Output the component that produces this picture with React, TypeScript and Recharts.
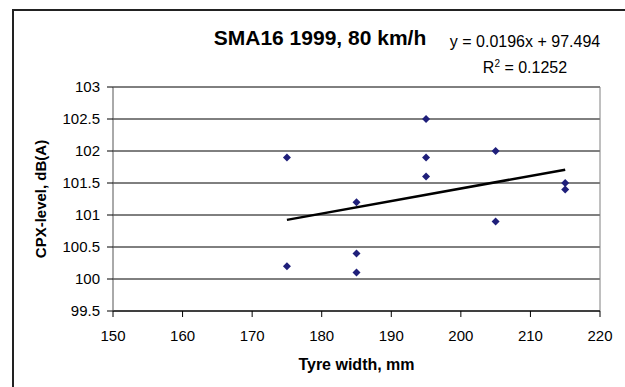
import React from 'react';
import {
  ScatterChart,
  Scatter,
  XAxis,
  YAxis,
  CartesianGrid,
  ReferenceLine,
  Label,
} from 'recharts';

// Measured CPX levels per tyre width
const tyreWidths = [175, 175, 185, 185, 185, 195, 195, 195, 205, 205, 215, 215];
const cpxLevels = [101.9, 100.2, 101.2, 100.4, 100.1, 102.5, 101.9, 101.6, 102.0, 100.9, 101.5, 101.4];

// Linear trend end points (y = 0.0196x + 97.494)
const trendX = [175, 215];
const trendY = [100.924, 101.708];

const xTicks = [150, 160, 170, 180, 190, 200, 210, 220];
const yTicks = [99.5, 100, 100.5, 101, 101.5, 102, 102.5, 103];

const points = tyreWidths.map((w, i) => ({ x: w, y: cpxLevels[i] }));
const trend = trendX.map((x, i) => ({ x, y: trendY[i] }));

const FONT = '"Liberation Sans", Arial, sans-serif';

const Diamond = (props: any) => {
  const { cx, cy } = props;
  if (cx == null || cy == null) return <g />;
  const r = 4;
  return (
    <path
      d={`M${cx},${cy - r} L${cx + r},${cy} L${cx},${cy + r} L${cx - r},${cy} Z`}
      fill="#1f1f7a"
    />
  );
};

const YTitle = (props: any) => {
  const { viewBox } = props;
  const cy = viewBox.y + viewBox.height / 2;
  return (
    <text
      x={40}
      y={cy}
      transform={`rotate(-90, 40, ${cy})`}
      textAnchor="middle"
      dominantBaseline="central"
      fontFamily={FONT}
      fontWeight="bold"
      fontSize={15}
      fill="#000"
    >
      CPX-level, dB(A)
    </text>
  );
};

const XTitle = (props: any) => {
  const { viewBox } = props;
  const cx = viewBox.x + viewBox.width / 2;
  return (
    <text
      x={cx}
      y={370}
      textAnchor="middle"
      fontFamily={FONT}
      fontWeight="bold"
      fontSize={16}
      fill="#000"
    >
      Tyre width, mm
    </text>
  );
};

export default function App() {
  return (
    <div style={{ position: 'absolute', left: 0, top: 0, width: 625, height: 387, background: '#fff' }}>
      <ScatterChart width={625} height={387} margin={{ top: 87, right: 25, left: 0, bottom: 0 }}>
        <path d="M13,387 V10 H625" stroke="#222" strokeWidth={2} fill="none" />
        <text x={320} y={45} textAnchor="middle" fontFamily={FONT} fontWeight="bold" fontSize={21} fill="#000">
          SMA16 1999, 80 km/h
        </text>
        <text x={525} y={47} textAnchor="middle" fontFamily={FONT} fontSize={16} fill="#000">
          y = 0.0196x + 97.494
        </text>
        <text x={525} y={73} textAnchor="middle" fontFamily={FONT} fontSize={16} fill="#000">
          R<tspan dy={-6} fontSize={10}>2</tspan>
          <tspan dy={6}> = 0.1252</tspan>
        </text>
        <CartesianGrid horizontal vertical={false} stroke="#000" strokeOpacity={1} />
        <XAxis
          type="number"
          dataKey="x"
          domain={[150, 220]}
          ticks={xTicks}
          height={76}
          tickSize={6}
          tickMargin={13}
          axisLine={{ stroke: '#000' }}
          tickLine={{ stroke: '#000' }}
          tick={{ fill: '#000', fontSize: 15, fontFamily: FONT }}
        >
          <Label content={<XTitle />} />
        </XAxis>
        <YAxis
          type="number"
          dataKey="y"
          domain={[99.5, 103]}
          ticks={yTicks}
          width={113}
          tickSize={6}
          tickMargin={7}
          axisLine={{ stroke: '#555' }}
          tickLine={{ stroke: '#000' }}
          tick={{ fill: '#000', fontSize: 15, fontFamily: FONT }}
        >
          <Label content={<YTitle />} />
        </YAxis>
        <ReferenceLine x={220} stroke="#808080" />
        <ReferenceLine y={103} stroke="#808080" />
        <Scatter
          data={trend}
          line={{ stroke: '#000', strokeWidth: 2.5 }}
          shape={() => <g />}
          isAnimationActive={false}
        />
        <Scatter data={points} shape={<Diamond />} isAnimationActive={false} />
      </ScatterChart>
    </div>
  );
}
